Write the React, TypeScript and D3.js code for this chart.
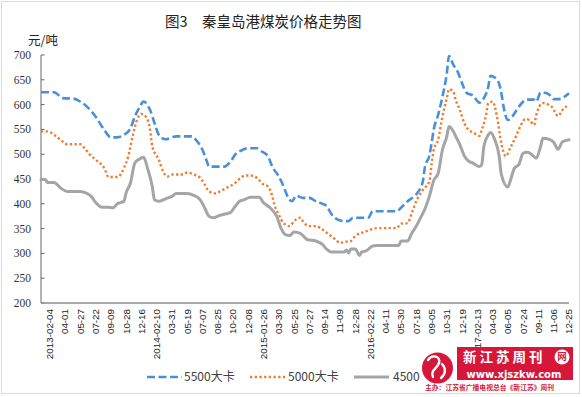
import React from 'react';
import * as d3 from 'd3';

const title = '图3　秦皇岛港煤炭价格走势图';
const unitLabel = '元/吨';
const yTicks = [200, 250, 300, 350, 400, 450, 500, 550, 600, 650, 700];
const xLabels = [
  '2013-02-04', '04-01', '05-27', '07-22', '09-09', '10-28', '12-16',
  '2014-02-10', '03-31', '05-19', '07-07', '08-25', '10-20', '12-08',
  '2015-01-26', '03-30', '05-25', '07-27', '09-14', '11-09', '12-28',
  '2016-02-22', '04-11', '05-30', '07-18', '09-05', '10-31', '12-19',
  '2017-02-13', '04-03', '06-05', '07-24', '09-11', '11-06', '12-25',
];
const weekCount = 243;
const labelFirstWeek = 4;
const labelEvery = 7;

const seriesNames = ['5500大卡', '5000大卡', '4500'];

const s5500Weeks = [0, 6, 10, 15, 18, 21, 25, 29, 32, 35, 38, 41, 43, 45, 47, 50, 52, 54, 57, 62, 69, 71, 74, 76, 77, 84, 87, 89, 92, 95, 99, 101, 104, 106, 109, 111, 113, 115, 117, 120, 123, 126, 129, 131, 133, 136, 139, 141, 143, 150, 152, 163, 165, 168, 171, 173, 175, 176, 178, 179, 180, 182, 184, 186, 187, 189, 191, 193, 195, 198, 201, 203, 205, 206, 209, 211, 212, 214, 216, 218, 221, 223, 226, 227, 229, 231, 233, 235, 237, 240, 242];
const s5500Values = [625, 625, 613, 612, 606, 596, 576, 549, 534, 534, 539, 552, 576, 593, 606, 589, 563, 539, 530, 536, 536, 529, 509, 486, 475, 475, 486, 499, 508, 512, 512, 506, 496, 475, 455, 437, 415, 405, 416, 412, 412, 405, 400, 395, 380, 368, 365, 365, 372, 372, 385, 385, 392, 405, 415, 425, 445, 475, 497, 522, 550, 579, 616, 663, 698, 680, 666, 643, 624, 618, 604, 613, 636, 658, 651, 623, 596, 569, 576, 589, 606, 610, 610, 606, 624, 624, 620, 611, 611, 616, 623];

const s5000Weeks = [0, 3, 6, 9, 12, 18, 20, 22, 25, 29, 31, 35, 38, 40, 42, 44, 46, 48, 50, 51, 54, 56, 58, 60, 65, 67, 70, 73, 75, 77, 80, 82, 85, 89, 92, 94, 96, 99, 102, 104, 106, 107, 109, 111, 114, 116, 119, 120, 123, 126, 129, 132, 135, 137, 139, 142, 144, 148, 151, 154, 163, 165, 168, 170, 172, 175, 178, 179, 180, 182, 184, 186, 187, 189, 190, 192, 194, 196, 198, 201, 202, 204, 205, 207, 209, 211, 213, 215, 218, 220, 222, 224, 226, 227, 230, 232, 234, 237, 239, 241];
const s5000Values = [546, 546, 539, 529, 520, 520, 512, 501, 489, 472, 454, 454, 472, 496, 536, 569, 581, 576, 549, 516, 489, 465, 455, 459, 459, 463, 459, 452, 439, 425, 421, 425, 432, 442, 454, 457, 457, 452, 439, 435, 415, 398, 378, 362, 355, 365, 372, 365, 355, 355, 348, 338, 328, 321, 323, 325, 335, 343, 348, 351, 351, 360, 361, 382, 405, 428, 445, 479, 509, 529, 576, 613, 631, 626, 610, 589, 563, 549, 544, 537, 549, 579, 603, 606, 576, 522, 496, 512, 539, 559, 571, 568, 559, 579, 603, 601, 596, 577, 589, 597];

const s4500Weeks = [0, 2, 3, 6, 9, 12, 18, 21, 23, 25, 28, 31, 33, 35, 38, 39, 41, 43, 45, 47, 49, 51, 52, 54, 56, 57, 60, 62, 67, 70, 73, 75, 77, 79, 82, 85, 87, 89, 91, 93, 96, 100, 102, 105, 108, 110, 112, 114, 116, 119, 122, 126, 129, 131, 133, 139, 140, 141, 142, 144, 146, 147, 149, 152, 154, 164, 165, 168, 170, 172, 174, 176, 178, 180, 182, 184, 186, 187, 189, 190, 192, 194, 196, 198, 201, 202, 203, 205, 206, 208, 210, 211, 214, 215, 217, 219, 221, 223, 225, 227, 229, 230, 233, 235, 237, 239, 242];
const s4500Values = [449, 449, 443, 443, 432, 425, 425, 421, 415, 403, 393, 393, 392, 400, 405, 422, 442, 482, 490, 494, 469, 435, 408, 405, 408, 410, 415, 421, 421, 417, 408, 392, 375, 372, 377, 380, 383, 395, 405, 408, 413, 413, 402, 392, 375, 351, 338, 336, 343, 340, 328, 325, 318, 308, 303, 303, 307, 301, 309, 309, 296, 303, 305, 315, 316, 316, 325, 325, 341, 355, 372, 390, 415, 447, 461, 509, 536, 556, 546, 537, 519, 497, 486, 482, 475, 479, 516, 539, 544, 529, 496, 459, 434, 445, 472, 479, 502, 504, 499, 492, 516, 532, 530, 524, 510, 525, 529];

const W = 582;
const H = 397;
const plotLeft = 41;
const plotRight = 569;
const plotTop = 55;
const plotBottom = 303;

const CJK = '"Noto Sans CJK SC", "Liberation Sans", sans-serif';

export default function App() {
  const x = d3.scaleLinear().domain([0, weekCount - 1]).range([plotLeft, plotRight]);
  const y = d3.scaleLinear().domain([200, 700]).range([plotBottom, plotTop]);
  const line = d3
    .line<[number, number]>()
    .x((d) => x(d[0]))
    .y((d) => y(d[1]))
    .curve(d3.curveMonotoneX);

  const series = [
    { name: seriesNames[0], weeks: s5500Weeks, values: s5500Values, color: '#4A90D9', width: 2.6, dash: '8 3.5', cap: 'butt' },
    { name: seriesNames[1], weeks: s5000Weeks, values: s5000Values, color: '#ED7D31', width: 2.4, dash: '2.3 2.4', cap: 'butt' },
    { name: seriesNames[2], weeks: s4500Weeks, values: s4500Values, color: '#A5A5A5', width: 3, dash: undefined, cap: 'round' },
  ];

  const legendItems = [
    { sx: 147, tx: 184 },
    { sx: 250, tx: 288 },
    { sx: 354, tx: 393 },
  ];
  const legendY = 377;

  return (
    <svg
      width={W}
      height={H}
      viewBox={`0 0 ${W} ${H}`}
      style={{ position: 'absolute', left: 0, top: 0, background: '#fff' }}
    >
      <rect x={0} y={0} width={W} height={H} fill="#fff" />
      <rect x={1.5} y={1.5} width={578} height={392} fill="none" stroke="#d9d9d9" strokeWidth={1} />

      <text x={165} y={27} fontFamily={CJK} fontSize={14.5} fill="#222">
        {title}
      </text>
      <text x={28} y={45} fontFamily={CJK} fontSize={12.5} fill="#222">
        {unitLabel}
      </text>

      {/* y axis */}
      <line x1={plotLeft} x2={plotLeft} y1={plotTop} y2={plotBottom} stroke="#666" strokeWidth={1} />
      {yTicks.map((t) => (
        <g key={t}>
          <line x1={plotLeft} x2={plotLeft + 3.5} y1={y(t)} y2={y(t)} stroke="#666" strokeWidth={1} />
          <text
            x={31}
            y={y(t)}
            dy="0.35em"
            textAnchor="end"
            fontFamily='"Liberation Serif", "Times New Roman", serif'
            fontSize={11.5}
            fill="#333"
          >
            {t}
          </text>
        </g>
      ))}

      {/* x axis */}
      <line x1={plotLeft} x2={plotRight} y1={plotBottom} y2={plotBottom} stroke="#8c8c8c" strokeWidth={1.3} />
      {xLabels.map((lab, i) => {
        const wk = labelFirstWeek + i * labelEvery;
        const px = x(wk);
        return (
          <text
            key={lab + i}
            transform={`translate(${px},309) rotate(-90)`}
            textAnchor="end"
            dy="0.35em"
            fontFamily='"Liberation Sans", Arial, sans-serif'
            fontSize={9.8}
            fill="#222"
          >
            {lab}
          </text>
        );
      })}

      {/* series */}
      {series.map((s) => {
        const pts: [number, number][] = s.weeks.map((w, i) => [w, s.values[i]]);
        return (
          <path
            key={s.name}
            d={line(pts) || ''}
            fill="none"
            stroke={s.color}
            strokeWidth={s.width}
            strokeDasharray={s.dash}
            strokeLinecap={s.cap as any}
            strokeLinejoin="round"
          />
        );
      })}

      {/* legend */}
      {series.map((s, i) => (
        <g key={'lg' + s.name}>
          <line
            x1={legendItems[i].sx}
            x2={legendItems[i].sx + 35}
            y1={legendY}
            y2={legendY}
            stroke={s.color}
            strokeWidth={s.width}
            strokeDasharray={s.dash}
          />
          <text
            x={legendItems[i].tx}
            y={legendY}
            dy="0.36em"
            fontFamily={CJK}
            fontSize={12}
            fill="#404040"
          >
            {s.name}
          </text>
        </g>
      ))}

      {/* watermark */}
      <g>
        <circle cx={437.5} cy={368} r={15.5} fill="#D6173A" />
        <path
          d="M428 360 C432 354, 441 356, 439 363 C437 369, 430 370, 433 377"
          fill="none"
          stroke="#fff"
          strokeWidth={2.4}
          strokeLinecap="round"
        />
        <path
          d="M442 364 C446 368, 446 374, 441 378"
          fill="none"
          stroke="#fff"
          strokeWidth={2.4}
          strokeLinecap="round"
        />
        <rect x={457} y={347} width={116} height={33} fill="#D6173A" />
        <text x={463} y={362} fontFamily={CJK} fontWeight={700} fontSize={13.5} fill="#fff" letterSpacing={3}>
          新江苏周刊
        </text>
        <circle cx={562} cy={357} r={7.5} fill="#fff" />
        <text x={562} y={357} dy="0.36em" textAnchor="middle" fontFamily={CJK} fontWeight={700} fontSize={9.5} fill="#D6173A">
          网
        </text>
        <text x={514} y={378} textAnchor="middle" fontFamily='"DejaVu Sans", sans-serif' fontWeight={700} fontSize={10} fill="#fff">
          www.xjszkw.com
        </text>
        <text x={425} y={390} fontFamily={CJK} fontWeight={700} fontSize={6.8} fill="#D6173A">
          主办：江苏省广播电视总台《新江苏》周刊
        </text>
      </g>
    </svg>
  );
}
